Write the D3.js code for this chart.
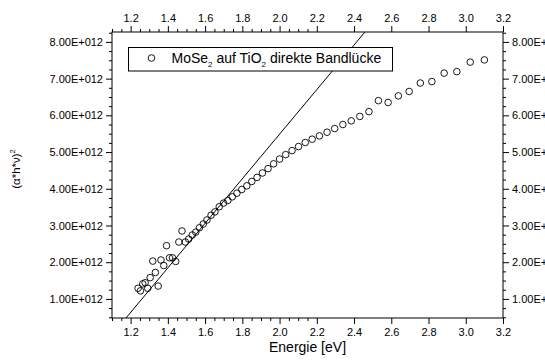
<!DOCTYPE html>
<html>
<head>
<meta charset="utf-8">
<script src="https://cdn.jsdelivr.net/npm/d3@7"></script>
<style>
  html, body { margin: 0; padding: 0; background: #fff; }
  svg { display: block; font-family: "Liberation Sans", Arial, Helvetica, sans-serif; }
</style>
</head>
<body>
<svg id="chart" width="545" height="364"></svg>
<script>
// Photon energy of each measured point (eV)
const energy = [
  1.240, 1.253, 1.265, 1.278, 1.292, 1.305, 1.319, 1.333, 1.348, 1.363,
  1.378, 1.393, 1.409, 1.425, 1.442, 1.459, 1.476, 1.494, 1.512, 1.531,
  1.550, 1.570, 1.590, 1.610, 1.632, 1.653, 1.676, 1.699, 1.722, 1.746,
  1.771, 1.797, 1.824, 1.851, 1.879, 1.908, 1.938, 1.968, 2.000, 2.033,
  2.067, 2.102, 2.138, 2.175, 2.214, 2.255, 2.296, 2.340, 2.385, 2.431,
  2.480, 2.531, 2.583, 2.638, 2.696, 2.756, 2.818, 2.884, 2.952, 3.024,
  3.100
];
// (alpha*h*nu)^2 in units of 1e12
const alphaHnuSq = [
  1.29, 1.22, 1.41, 1.44, 1.29, 1.58, 2.03, 1.72, 1.35, 2.06,
  1.91, 2.45, 2.12, 2.12, 2.02, 2.55, 2.85, 2.55, 2.63, 2.74,
  2.82, 2.94, 3.04, 3.15, 3.28, 3.37, 3.51, 3.61, 3.68, 3.78,
  3.88, 3.98, 4.08, 4.20, 4.31, 4.43, 4.55, 4.68, 4.81, 4.93,
  5.04, 5.15, 5.26, 5.35, 5.44, 5.54, 5.64, 5.75, 5.85, 5.97,
  6.10, 6.40, 6.35, 6.53, 6.65, 6.88, 6.92, 7.15, 7.19, 7.45,
  7.51
];
// Linear fit of the absorption edge: y = slope * (E - gap)
const fitGap = [1.096];          // eV, x-intercept
const fitSlope = [6.07];         // 1e12 per eV

const xMajor = [1.2, 1.4, 1.6, 1.8, 2.0, 2.2, 2.4, 2.6, 2.8, 3.0, 3.2];
const yMajor = [1, 2, 3, 4, 5, 6, 7, 8];
const legendLabel = ["MoSe", "2", " auf TiO", "2", " direkte Bandlücke"];
const xTitle = "Energie [eV]";

const svg = d3.select("#chart");
const L = 112, R = 503, T = 32, B = 318;

const x = d3.scaleLinear().domain([1.1, 3.2]).range([L, R]);
const y = d3.scaleLinear().domain([0.48, 8.27]).range([B, T]);

const xMinor = d3.range(22).map(i => +(1.1 + i * 0.05).toFixed(2)).filter(v => !xMajor.some(m => Math.abs(m - v) < 1e-6));
const yMinor = d3.range(0, 34).map(i => 0.5 + i * 0.25).filter(v => v <= 8.27 && !Number.isInteger(v));

const fmtY = v => v.toFixed(2) + "E+012";
const fmtX = v => v.toFixed(1);

function styleAxis(g) {
  g.select(".domain").remove();
  g.selectAll("line").attr("stroke", "#000").attr("stroke-width", 1);
  g.selectAll("text").attr("fill", "#000").attr("font-size", 11);
}

// major & minor ticks on all four sides
svg.append("g").attr("transform", `translate(0,${B})`)
  .call(d3.axisBottom(x).tickValues(xMajor).tickFormat(fmtX).tickSize(6).tickPadding(4)).call(styleAxis);
svg.append("g").attr("transform", `translate(0,${B})`)
  .call(d3.axisBottom(x).tickValues(xMinor).tickFormat("").tickSize(3)).call(styleAxis);
svg.append("g").attr("transform", `translate(0,${T})`)
  .call(d3.axisTop(x).tickValues(xMajor).tickFormat(fmtX).tickSize(6).tickPadding(4)).call(styleAxis);
svg.append("g").attr("transform", `translate(0,${T})`)
  .call(d3.axisTop(x).tickValues(xMinor).tickFormat("").tickSize(3)).call(styleAxis);

svg.append("g").attr("transform", `translate(${L},0)`)
  .call(d3.axisLeft(y).tickValues(yMajor).tickFormat(fmtY).tickSize(6).tickPadding(3)).call(styleAxis);
svg.append("g").attr("transform", `translate(${L},0)`)
  .call(d3.axisLeft(y).tickValues(yMinor).tickFormat("").tickSize(3)).call(styleAxis);
svg.append("g").attr("transform", `translate(${R},0)`)
  .call(d3.axisRight(y).tickValues(yMajor).tickFormat(fmtY).tickSize(6).tickPadding(3)).call(styleAxis);
svg.append("g").attr("transform", `translate(${R},0)`)
  .call(d3.axisRight(y).tickValues(yMinor).tickFormat("").tickSize(3)).call(styleAxis);

// plot frame
svg.append("rect").attr("x", L).attr("y", T).attr("width", R - L).attr("height", B - T)
  .attr("fill", "none").attr("stroke", "#000").attr("stroke-width", 1);

// clip region for the fit line
svg.append("clipPath").attr("id", "plotClip")
  .append("rect").attr("x", L).attr("y", T).attr("width", R - L).attr("height", B - T);

const fitEnds = [x.domain()[0], x.domain()[1]].map(e => [e, fitSlope[0] * (e - fitGap[0])]);
svg.append("path")
  .attr("clip-path", "url(#plotClip)")
  .attr("d", d3.line().x(d => x(d[0])).y(d => y(d[1]))(fitEnds))
  .attr("fill", "none").attr("stroke", "#000").attr("stroke-width", 1);

// data points
svg.append("g").selectAll("circle")
  .data(energy.map((e, i) => [e, alphaHnuSq[i]]))
  .join("circle")
  .attr("cx", d => x(d[0])).attr("cy", d => y(d[1])).attr("r", 3.3)
  .attr("fill", "none").attr("stroke", "#000").attr("stroke-width", 0.9);

// legend
const lg = svg.append("g");
lg.append("rect").attr("x", 128.5).attr("y", 47.5).attr("width", 264).attr("height", 23.5)
  .attr("fill", "#fff").attr("stroke", "#000").attr("stroke-width", 1);
lg.append("circle").attr("cx", 151.5).attr("cy", 58).attr("r", 3.3)
  .attr("fill", "none").attr("stroke", "#000").attr("stroke-width", 0.9);
const lt = lg.append("text").attr("x", 171.5).attr("y", 63).attr("font-size", 14).attr("fill", "#000");
legendLabel.forEach((s, i) => {
  const sub = i % 2 === 1;
  lt.append("tspan").text(s)
    .attr("font-size", sub ? 8 : 14)
    .attr("dy", sub ? 4 : (i > 0 ? -4 : 0));
});

// axis titles
svg.append("text").attr("x", (L + R) / 2).attr("y", 352).attr("text-anchor", "middle")
  .attr("font-size", 14).attr("fill", "#000").text(xTitle);

const yt = svg.append("text")
  .attr("transform", `translate(20,${(T + B) / 2 - 6}) rotate(-90)`)
  .attr("text-anchor", "middle").attr("font-size", 11.5).attr("fill", "#000");
yt.append("tspan").text("(α*h*ν)");
yt.append("tspan").text("2").attr("font-size", 7.5).attr("dy", -5);
</script>
</body>
</html>
